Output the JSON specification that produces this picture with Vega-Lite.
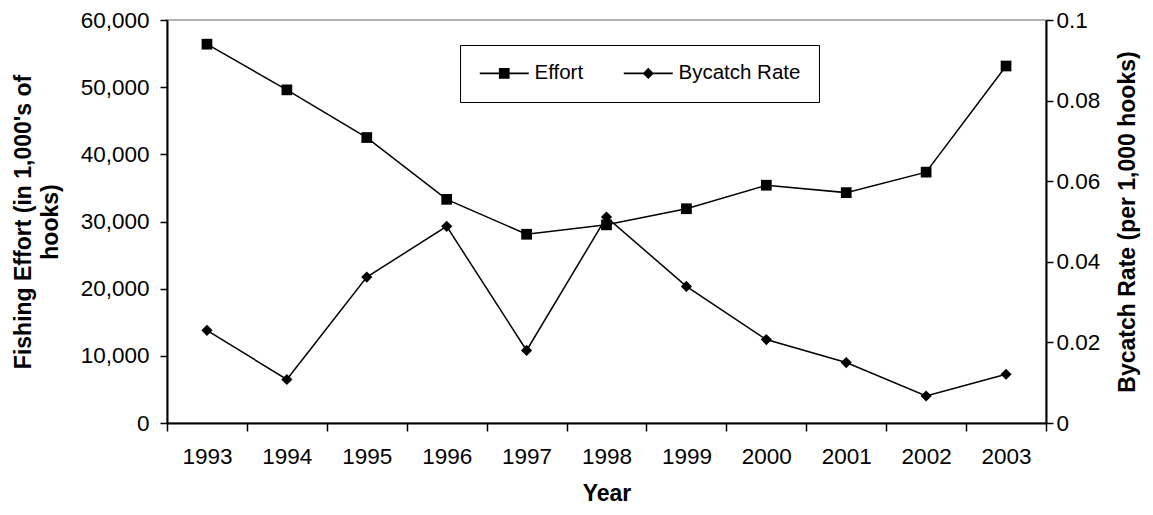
{
  "$schema": "https://vega.github.io/schema/vega-lite/v6.json",
  "width": 879,
  "height": 403,
  "autosize": "none",
  "padding": {"left": 167, "top": 20, "right": 107, "bottom": 92},
  "background": "white",
  "config": {
    "font": "Liberation Sans",
    "view": {"stroke": "#9a9a9a", "strokeWidth": 1.5},
    "axis": {
      "grid": false,
      "domainColor": "black",
      "domainWidth": 2,
      "tickColor": "black",
      "tickWidth": 1.5,
      "tickSize": 7,
      "labelFontSize": 22.5,
      "labelColor": "black",
      "labelFont": "Liberation Sans",
      "titleFontSize": 23,
      "titleFontWeight": "bold",
      "titleColor": "black",
      "titleFont": "Liberation Sans"
    }
  },
  "data": {
    "values": [
      {"year": "1993", "effort": 56400, "rate": 0.0230},
      {"year": "1994", "effort": 49600, "rate": 0.0108},
      {"year": "1995", "effort": 42500, "rate": 0.0362},
      {"year": "1996", "effort": 33300, "rate": 0.0488},
      {"year": "1997", "effort": 28100, "rate": 0.0180},
      {"year": "1998", "effort": 29500, "rate": 0.0511},
      {"year": "1999", "effort": 31900, "rate": 0.0339},
      {"year": "2000", "effort": 35400, "rate": 0.0207},
      {"year": "2001", "effort": 34300, "rate": 0.0150},
      {"year": "2002", "effort": 37350, "rate": 0.0067},
      {"year": "2003", "effort": 53150, "rate": 0.0121}
    ]
  },
  "encoding": {
    "x": {
      "field": "year",
      "type": "ordinal",
      "scale": {"type": "band", "paddingInner": 0, "paddingOuter": 0},
      "axis": {
        "title": "Year",
        "labelAngle": 0,
        "tickBand": "extent",
        "tickSize": 8,
        "labelPadding": 14,
        "titlePadding": 15
      }
    }
  },
  "layer": [
    {
      "encoding": {
        "y": {
          "field": "effort",
          "type": "quantitative",
          "scale": {"domain": [0, 60000], "nice": false, "zero": true},
          "axis": {
            "orient": "left",
            "title": ["Fishing Effort (in 1,000's of", "hooks)"],
            "values": [0, 10000, 20000, 30000, 40000, 50000, 60000],
            "format": ",d",
            "labelPadding": 11,
            "titlePadding": 18,
            "titleLineHeight": 27
          }
        }
      },
      "layer": [
        {"mark": {"type": "line", "color": "black", "strokeWidth": 1.5}},
        {"mark": {"type": "point", "shape": "square", "filled": true, "color": "black", "size": 115, "opacity": 1}},
        {
          "mark": {"type": "point", "filled": true, "color": "black", "opacity": 0},
          "encoding": {
            "shape": {
              "datum": "Effort",
              "type": "nominal",
              "scale": {
                "domain": ["Effort", "Bycatch Rate"],
                "range": [
                  "M-2.45,-0.08H2.45V0.08H-2.45ZM-0.535,-0.535H0.535V0.535H-0.535Z",
                  "M-2.45,-0.08H2.45V0.08H-2.45ZM0,-0.56L0.56,0L0,0.56L-0.56,0Z"
                ]
              },
              "legend": {
                "title": null,
                "orient": "none",
                "legendX": 293,
                "legendY": 25,
                "direction": "horizontal",
                "strokeColor": "black",
                "fillColor": "white",
                "padding": 18,
                "symbolSize": 400,
                "symbolOffset": 16,
                "symbolFillColor": "black",
                "symbolStrokeColor": "black",
                "symbolStrokeWidth": 0,
                "symbolOpacity": 1,
                "labelFontSize": 20.5,
                "labelFont": "Liberation Sans",
                "labelColor": "black",
                "labelOffset": 20,
                "columnPadding": 38
              }
            }
          }
        }
      ]
    },
    {
      "encoding": {
        "y": {
          "field": "rate",
          "type": "quantitative",
          "scale": {"domain": [0, 0.1], "nice": false, "zero": true},
          "axis": {
            "orient": "right",
            "title": "Bycatch Rate (per 1,000 hooks)",
            "values": [0, 0.02, 0.04, 0.06, 0.08, 0.1],
            "format": "~g",
            "labelPadding": 3,
            "titlePadding": 17,
            "titleAngle": 270,
            "titleBaseline": "top"
          }
        }
      },
      "layer": [
        {"mark": {"type": "line", "color": "black", "strokeWidth": 1.5}},
        {"mark": {"type": "point", "shape": "diamond", "filled": true, "color": "black", "size": 125, "opacity": 1}},
        {
          "mark": {"type": "point", "filled": true, "color": "black", "opacity": 0},
          "encoding": {
            "shape": {"datum": "Bycatch Rate", "type": "nominal"}
          }
        }
      ]
    }
  ],
  "resolve": {"scale": {"y": "independent"}}
}
